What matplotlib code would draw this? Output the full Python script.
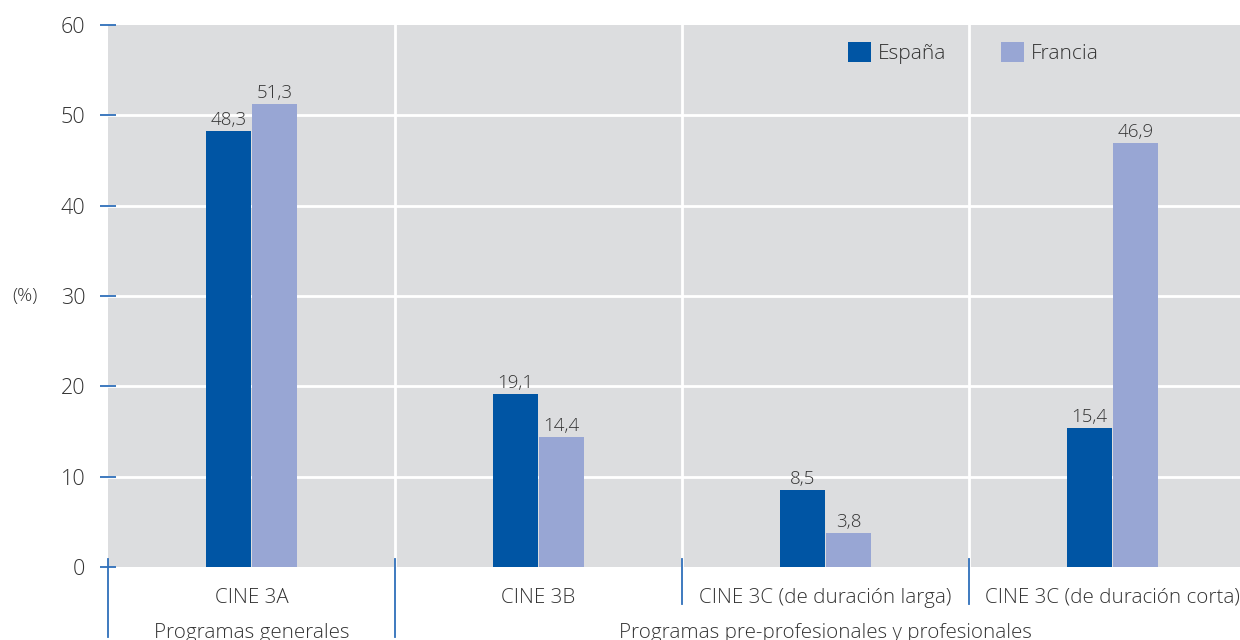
import numpy as np
import matplotlib
matplotlib.use("Agg")
import matplotlib.pyplot as plt
import matplotlib.transforms as mtransforms

# datos
categorias = ["CINE 3A", "CINE 3B", "CINE 3C (de duración larga)", "CINE 3C (de duración corta)"]
espana = [48.3, 19.1, 8.5, 15.4]
francia = [51.3, 14.4, 3.8, 46.9]
grupos = ["Programas generales", "Programas pre-profesionales y profesionales"]
grupo_centro = [0, 2]
yticks = [0, 10, 20, 30, 40, 50, 60]

col_es = "#0055a4"
col_fr = "#98a6d4"
col_bg = "#dcdddf"
col_txt = "#333333"
col_linea = "#2f6fba"

plt.rcParams['font.family'] = ['Open Sans', 'DejaVu Sans']
plt.rcParams['font.weight'] = 'light'

fig = plt.figure(figsize=(12.4, 6.4), dpi=100)
ax = fig.add_axes([108 / 1240, 73 / 640, 1132 / 1240, 542 / 640])
ax.set_facecolor(col_bg)

x = np.arange(len(categorias))
w = 0.155
b1 = ax.bar(x - 0.08, espana, w, color=col_es, label="España", zorder=3)
b2 = ax.bar(x + 0.08, francia, w, color=col_fr, label="Francia", zorder=3)

# etiquetas de valor con coma decimal
for barras, vals in [(b1, espana), (b2, francia)]:
    for r, v in zip(barras, vals):
        ax.annotate(f"{v:.1f}".replace(".", ","), (r.get_x() + r.get_width() / 2, v),
                    xytext=(0, 1.5), textcoords="offset points", ha="center", va="bottom",
                    fontsize=13.5, color=col_txt)

ax.set_ylim(0, 60)
ax.set_xlim(-0.5, -0.5 + 1132 / 287)
ax.set_yticks(yticks)
ax.set_xticks([])
ax.tick_params(axis="y", direction="inout", length=11, width=1.3, color=col_linea,
               labelsize=15.5, labelcolor=col_txt, pad=11)

# rejilla blanca
for yv in yticks[1:-1]:
    ax.axhline(yv, color="white", lw=2, zorder=1)
for xv in [0.5, 1.5, 2.5]:
    ax.axvline(xv, color="white", lw=2, zorder=1)

for s in ax.spines.values():
    s.set_visible(False)

ax.text(-0.0733, 0.5, "(%)", transform=ax.transAxes, fontsize=13.5, color=col_txt,
        ha="center", va="center")

# separadores y etiquetas bajo el eje
trans = mtransforms.blended_transform_factory(ax.transData, ax.transAxes)
for xv, y0 in [(-0.5, -0.129), (0.5, -0.129), (1.5, -0.068), (2.5, -0.068)]:
    ax.plot([xv, xv], [0.015, y0], transform=trans, color=col_linea, lw=1.3, clip_on=False)

for xi, c in zip(x, categorias):
    ax.text(xi, -0.057, c, transform=trans, ha="center", va="center", fontsize=14.8, color=col_txt)
for xi, g in zip(grupo_centro, grupos):
    ax.text(xi, -0.121, g, transform=trans, ha="center", va="center", fontsize=14.8, color=col_txt)

ax.legend(ncol=2, frameon=False, loc="center left", bbox_to_anchor=(740 / 1132, 0.949),
          fontsize=15, handlelength=1.1, handleheight=1.1, handletextpad=0.35,
          columnspacing=2.6, labelcolor=col_txt, borderaxespad=0, borderpad=0)

fig.savefig("out.png", dpi=100)
